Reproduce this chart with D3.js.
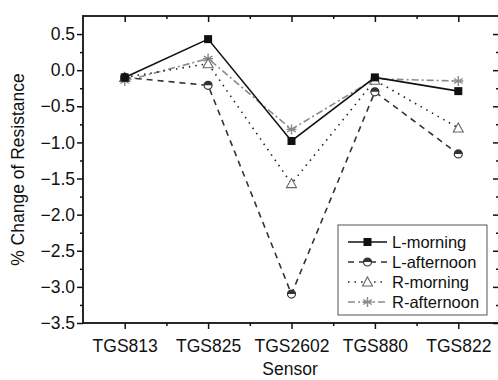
<!DOCTYPE html>
<html>
<head>
<meta charset="utf-8">
<script src="https://cdn.jsdelivr.net/npm/d3@7"></script>
<style>
  body { margin: 0; background: #fff; }
  text { font-family: "Liberation Sans", Arial, sans-serif; fill: #111; }
</style>
</head>
<body>
<div id="chart"></div>
<script>
const sensors = ['TGS813', 'TGS825', 'TGS2602', 'TGS880', 'TGS822'];
const lMorning = [-0.10, 0.43, -0.98, -0.10, -0.29];
const lAfternoon = [-0.10, -0.21, -3.10, -0.30, -1.16];
const rMorning = [-0.10, 0.09, -1.57, -0.14, -0.80];
const rAfternoon = [-0.15, 0.16, -0.82, -0.12, -0.15];
const yTicks = [0.5, 0.0, -0.5, -1.0, -1.5, -2.0, -2.5, -3.0, -3.5];

const series = [
  {name: 'L-morning', values: lMorning, stroke: '#111', dash: null, marker: 'square'},
  {name: 'L-afternoon', values: lAfternoon, stroke: '#333', dash: '6,5', marker: 'halfcircle'},
  {name: 'R-morning', values: rMorning, stroke: '#222', dash: '1.5,5', marker: 'triangle'},
  {name: 'R-afternoon', values: rAfternoon, stroke: '#8a8a8a', dash: '7,3,2,3', marker: 'star'},
];

const W = 498, H = 380;
const FS = 17.5;
const box = {l: 83, r: 499, t: 16, b: 323};

const svg = d3.select('#chart').append('svg')
  .attr('width', W).attr('height', H);

const x = d3.scaleLinear().domain([0.5, 5.5]).range([box.l, 500]);
const y = d3.scaleLinear().domain([-3.5, 0.75]).range([box.b, box.t]);

const axisStyle = g => {
  g.select('.domain').remove();
  g.selectAll('line').attr('stroke', '#111').attr('stroke-width', 1.5);
  g.selectAll('text').attr('font-size', FS).attr('font-family', null);
};

const minorY = d3.range(-3.25, 0.75, 0.5);
const xMajor = d3.range(1, 6);
const xMinor = d3.range(1.5, 5.5, 1);

// left axis (outward ticks)
svg.append('g').attr('transform', `translate(${box.l},0)`)
  .call(d3.axisLeft(y).tickValues(yTicks).tickFormat(d3.format('.1f')).tickSize(6).tickPadding(2))
  .call(axisStyle);
svg.append('g').attr('transform', `translate(${box.l},0)`)
  .call(d3.axisLeft(y).tickValues(minorY).tickFormat('').tickSize(3))
  .call(axisStyle);

// right axis (inward ticks)
svg.append('g').attr('transform', `translate(${box.r},0)`)
  .call(d3.axisRight(y).tickValues(yTicks).tickFormat('').tickSize(-6))
  .call(axisStyle);
svg.append('g').attr('transform', `translate(${box.r},0)`)
  .call(d3.axisRight(y).tickValues(minorY).tickFormat('').tickSize(-3))
  .call(axisStyle);

// bottom axis (outward ticks)
svg.append('g').attr('transform', `translate(0,${box.b})`)
  .call(d3.axisBottom(x).tickValues(xMajor).tickFormat(i => sensors[i - 1]).tickSize(6).tickPadding(11))
  .call(axisStyle);
svg.append('g').attr('transform', `translate(0,${box.b})`)
  .call(d3.axisBottom(x).tickValues(xMinor).tickFormat('').tickSize(3))
  .call(axisStyle);

// top axis (inward ticks)
svg.append('g').attr('transform', `translate(0,${box.t})`)
  .call(d3.axisTop(x).tickValues(xMajor).tickFormat('').tickSize(-6))
  .call(axisStyle);
svg.append('g').attr('transform', `translate(0,${box.t})`)
  .call(d3.axisTop(x).tickValues(xMinor).tickFormat('').tickSize(-3))
  .call(axisStyle);

// frame
svg.append('rect')
  .attr('x', box.l).attr('y', box.t)
  .attr('width', box.r - box.l).attr('height', box.b - box.t)
  .attr('fill', 'none').attr('stroke', '#111').attr('stroke-width', 1.8);

// axis titles
svg.append('text')
  .attr('x', (box.l + box.r) / 2 - 1).attr('y', 375)
  .attr('text-anchor', 'middle').attr('font-size', FS)
  .text('Sensor');
svg.append('text')
  .attr('transform', `translate(24,${(box.t + box.b) / 2}) rotate(-90)`)
  .attr('text-anchor', 'middle').attr('font-size', FS)
  .text('% Change of Resistance');

function drawMarker(g, type, cx, cy) {
  if (type === 'square') {
    g.append('rect').attr('x', cx - 4).attr('y', cy - 4).attr('width', 8).attr('height', 8)
      .attr('fill', '#111');
  } else if (type === 'halfcircle') {
    g.append('circle').attr('cx', cx).attr('cy', cy).attr('r', 4)
      .attr('fill', '#fff').attr('stroke', '#333').attr('stroke-width', 1.2);
    g.append('path')
      .attr('d', `M${cx - 4},${cy} A4,4 0 0 1 ${cx + 4},${cy} Z`)
      .attr('fill', '#333');
  } else if (type === 'triangle') {
    g.append('path')
      .attr('d', `M${cx},${cy - 5} L${cx + 5},${cy + 4} L${cx - 5},${cy + 4} Z`)
      .attr('fill', '#fff').attr('stroke', '#666').attr('stroke-width', 1.1);
  } else if (type === 'star') {
    const r = 5;
    let d = '';
    for (let k = 0; k < 3; k++) {
      const a = Math.PI / 2 + k * Math.PI / 3;
      d += `M${cx + r * Math.cos(a)},${cy + r * Math.sin(a)} L${cx - r * Math.cos(a)},${cy - r * Math.sin(a)} `;
    }
    d += `M${cx - r},${cy} L${cx + r},${cy}`;
    g.append('path').attr('d', d).attr('stroke', '#8a8a8a').attr('stroke-width', 1.4).attr('fill', 'none');
  }
}

const line = d3.line().x((d, i) => x(i + 1)).y(d => y(d));

// draw later series first so L-morning sits on top
for (const s of series.slice().reverse()) {
  const g = svg.append('g');
  g.append('path')
    .datum(s.values)
    .attr('d', line)
    .attr('fill', 'none')
    .attr('stroke', s.stroke)
    .attr('stroke-width', 1.6)
    .attr('stroke-dasharray', s.dash);
  s.values.forEach((v, i) => drawMarker(g, s.marker, x(i + 1), y(v)));
}

// legend
const lg = svg.append('g');
lg.append('rect')
  .attr('x', 338).attr('y', 225).attr('width', 149).attr('height', 90)
  .attr('fill', '#fff').attr('stroke', '#555').attr('stroke-width', 1);
series.forEach((s, i) => {
  const ry = 242 + i * 20;
  lg.append('line')
    .attr('x1', 348).attr('x2', 387).attr('y1', ry).attr('y2', ry)
    .attr('stroke', s.stroke).attr('stroke-width', 1.6)
    .attr('stroke-dasharray', s.dash);
  drawMarker(lg, s.marker, 367.5, ry);
  lg.append('text')
    .attr('x', 392).attr('y', ry).attr('dy', '0.35em')
    .attr('font-size', 16.5)
    .text(s.name);
});
</script>
</body>
</html>
